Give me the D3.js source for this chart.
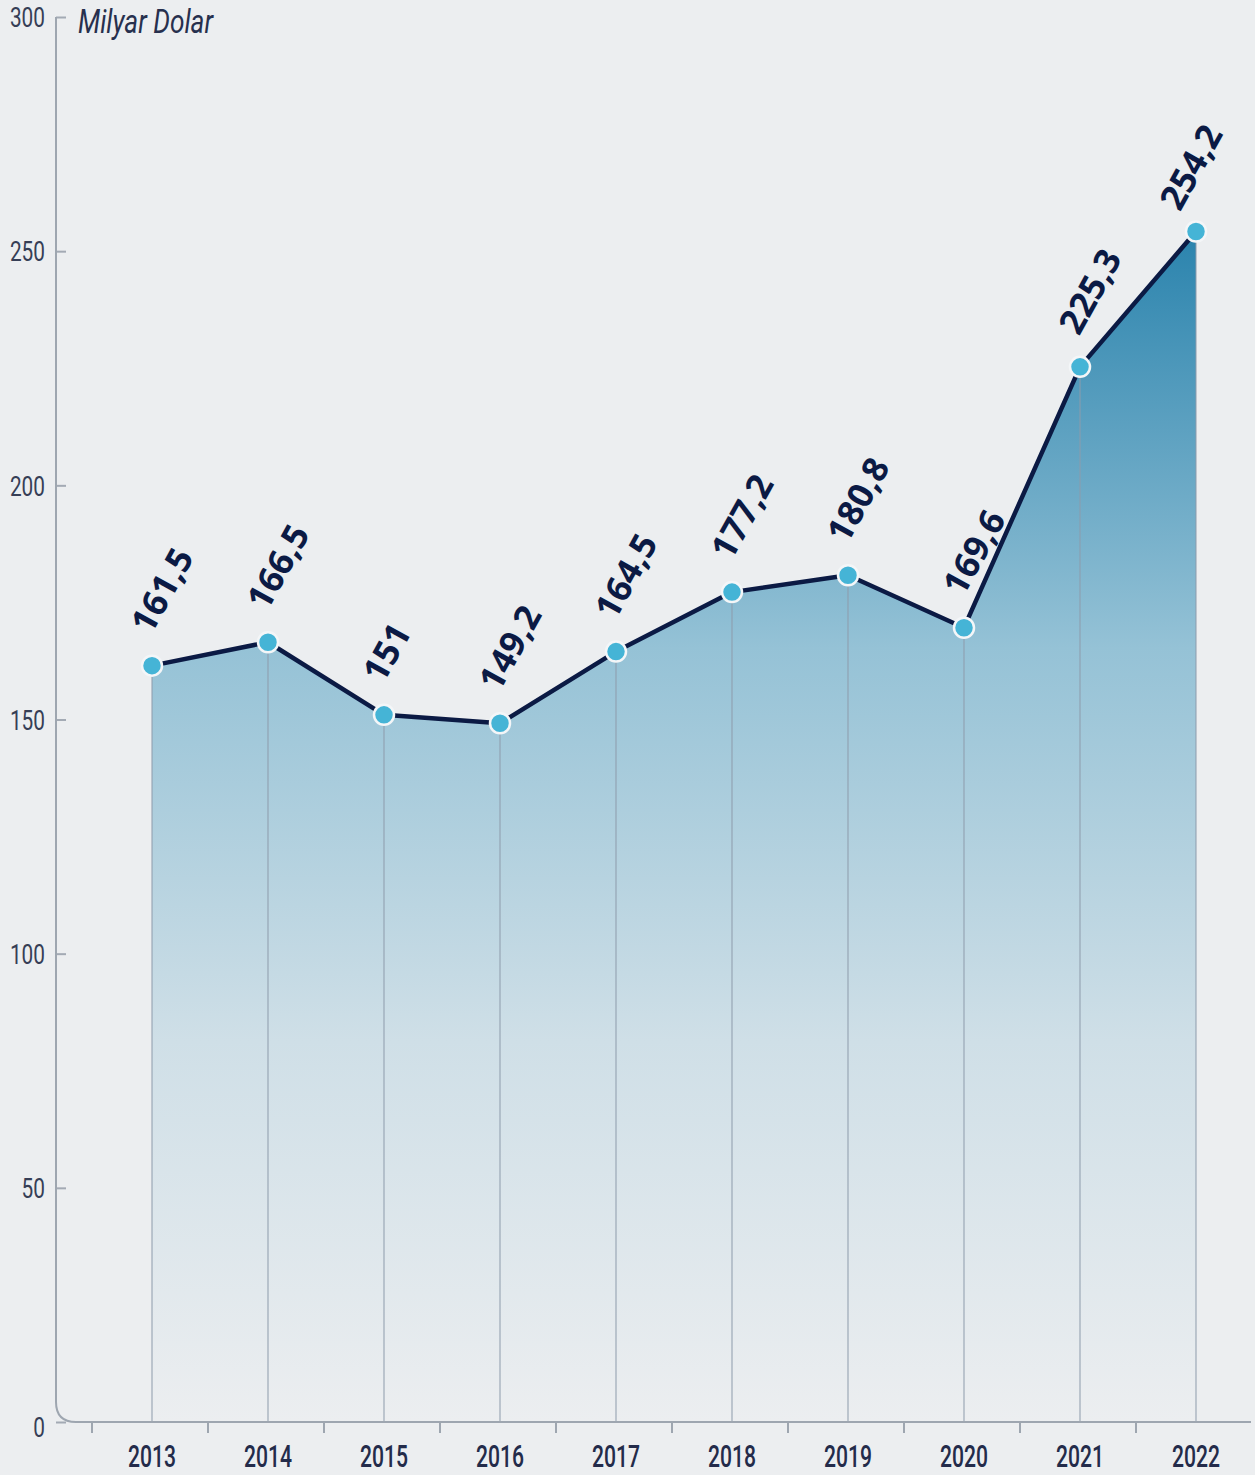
<!DOCTYPE html>
<html>
<head>
<meta charset="utf-8">
<script src="https://cdn.jsdelivr.net/npm/d3@7"></script>
<style>
  body { margin: 0; background: #eceef0; }
  svg { display: block; }
</style>
</head>
<body>
<script>
// chart size
var w = 1255;
var h = 1475;

// data (Milyar Dolar)
var years = ["2013", "2014", "2015", "2016", "2017", "2018", "2019", "2020", "2021", "2022"];
var values = [161.5, 166.5, 151, 149.2, 164.5, 177.2, 180.8, 169.6, 225.3, 254.2];
var yTicks = [0, 50, 100, 150, 200, 250, 300];
var unitLabel = "Milyar Dolar";

// plot area magic numbers
var axisX = 56;
var axisTop = 17;
var axisBottom = 1422;
var bandLeft = 94;
var bandRight = 1254;
var axisEnd = 1251;
var cornerR = 20;

var navy = "#0b1a44";
var labelGrey = "#363e56";

var svg = d3.select("body").append("svg")
    .attr("width", w)
    .attr("height", h);

svg.append("rect").attr("width", w).attr("height", h).attr("fill", "#eceef0");

var x = d3.scaleBand().domain(years).range([bandLeft, bandRight]);
var y = d3.scaleLinear().domain([0, 300]).range([axisBottom, axisTop]);

var cx = function(d, i) { return x(years[i]) + x.bandwidth() / 2; };

// turkish number format, comma decimal
var tr = d3.formatLocale({decimal: ",", thousands: ".", grouping: [3], currency: ["", ""]});
var fmt = tr.format(".1~f");

// gradient for the area
var grad = svg.append("defs").append("linearGradient")
    .attr("id", "areaGrad")
    .attr("gradientUnits", "userSpaceOnUse")
    .attr("x1", 0).attr("x2", 0)
    .attr("y1", y(d3.max(values))).attr("y2", y(0));
grad.append("stop").attr("offset", 0).attr("stop-color", "#2a83ad");
grad.append("stop").attr("offset", 0.35).attr("stop-color", "#95c2d6");
grad.append("stop").attr("offset", 0.68).attr("stop-color", "#cfdfe7");
grad.append("stop").attr("offset", 1).attr("stop-color", "#eceef0");

var area = d3.area()
    .x(cx)
    .y0(y(0))
    .y1(function(d) { return y(d); });

svg.append("path")
    .datum(values)
    .attr("d", area)
    .attr("fill", "url(#areaGrad)");

// drop lines
svg.append("g").selectAll("line")
    .data(values)
    .enter().append("line")
    .attr("x1", cx).attr("x2", cx)
    .attr("y1", function(d) { return y(d); })
    .attr("y2", y(0))
    .attr("stroke", "#8d9bab")
    .attr("stroke-width", 1);

// y axis
var yAxis = svg.append("g")
    .attr("transform", "translate(" + axisX + ",0)")
    .call(d3.axisLeft(y).tickValues(yTicks).tickSize(-10).tickPadding(11));
yAxis.select(".domain").remove();
yAxis.selectAll(".tick line").attr("stroke", "#a3aab4").attr("stroke-width", 2);
yAxis.selectAll(".tick text")
    .attr("fill", labelGrey)
    .attr("font-family", "Roboto, sans-serif")
    .attr("font-weight", 400)
    .attr("font-size", 27)
    .attr("dy", function(d) { return d === 0 ? "0.55em" : "0.36em"; })
    .attr("textLength", function(d) { return String(d).length * 11.7; })
    .attr("lengthAdjust", "spacingAndGlyphs");

// axis line with rounded corner
svg.append("path")
    .attr("d", "M" + axisX + "," + axisTop +
               "V" + (axisBottom - cornerR) +
               "Q" + axisX + "," + axisBottom + " " + (axisX + cornerR) + "," + axisBottom +
               "H" + axisEnd)
    .attr("fill", "none")
    .attr("stroke", "#9ea6b0")
    .attr("stroke-width", 2);

// x axis labels
var xAxis = svg.append("g")
    .attr("transform", "translate(0," + axisBottom + ")")
    .call(d3.axisBottom(x).tickSize(0).tickPadding(22));
xAxis.select(".domain").remove();
xAxis.selectAll(".tick text")
    .attr("fill", "#232b4a")
    .attr("font-family", "Roboto, sans-serif")
    .attr("font-weight", 500)
    .attr("font-size", 32)
    .attr("textLength", 48)
    .attr("lengthAdjust", "spacingAndGlyphs");

// x tick marks at band edges
svg.append("g").selectAll("line")
    .data(years)
    .enter().append("line")
    .attr("x1", function(d) { return x(d) - 2; })
    .attr("x2", function(d) { return x(d) - 2; })
    .attr("y1", axisBottom)
    .attr("y2", axisBottom + 11)
    .attr("stroke", "#9ea6b0")
    .attr("stroke-width", 2);

// unit label
svg.append("text")
    .attr("x", 78)
    .attr("y", 33)
    .attr("fill", "#27304e")
    .attr("font-family", "Roboto, sans-serif")
    .attr("font-style", "italic")
    .attr("font-weight", 400)
    .attr("font-size", 33)
    .attr("textLength", 135)
    .attr("lengthAdjust", "spacingAndGlyphs")
    .text(unitLabel);

// line
var line = d3.line()
    .x(cx)
    .y(function(d) { return y(d); });

svg.append("path")
    .datum(values)
    .attr("d", line)
    .attr("fill", "none")
    .attr("stroke", navy)
    .attr("stroke-width", 4.5)
    .attr("stroke-linejoin", "round");

// points
svg.append("g").selectAll("circle")
    .data(values)
    .enter().append("circle")
    .attr("cx", cx)
    .attr("cy", function(d) { return y(d); })
    .attr("r", 10)
    .attr("fill", "#45b4d6")
    .attr("stroke", "#f4f6f8")
    .attr("stroke-width", 2.5);

// value labels, rotated; last one nudged left so it stays in the frame
var last = values.length - 1;
svg.append("g").selectAll("text")
    .data(values)
    .enter().append("text")
    .attr("transform", function(d, i) {
        var dx = i === last ? -16 : -1;
        var dy = i === last ? -19 : -30;
        return "translate(" + (cx(d, i) + dx) + "," + (y(d) + dy) + ") rotate(-61)";
    })
    .attr("fill", navy)
    .attr("font-family", "'Open Sans', sans-serif")
    .attr("font-weight", 700)
    .attr("font-size", 35)
    .text(function(d) { return fmt(d); });
</script>
</body>
</html>
